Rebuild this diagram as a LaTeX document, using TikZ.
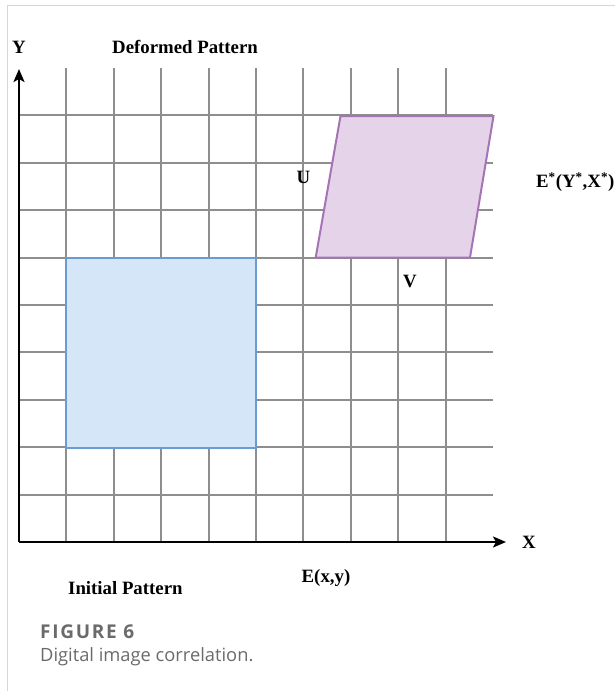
\documentclass[tikz,border=0pt]{standalone}
\usepackage{fontspec}
\setmainfont{Liberation Serif}
\newfontfamily\capfont{Open Sans}
\newfontfamily\capfontsp[LetterSpace=9]{Open Sans}
\usetikzlibrary{arrows.meta}
\definecolor{gridgray}{HTML}{8E8E8E}
\definecolor{framegray}{HTML}{D6D6D6}
\definecolor{bluefill}{HTML}{D5E6F9}
\definecolor{blueedge}{HTML}{6B9BD1}
\definecolor{purplefill}{HTML}{E5D4E9}
\definecolor{purpleedge}{HTML}{A673B5}
\definecolor{capgray}{HTML}{6A6A6A}
\tikzset{
  gridline/.style={draw=gridgray, line width=1.9pt},
  axisline/.style={draw=black, line width=2.3pt, -{Stealth[length=13pt,width=11pt,inset=3pt]}},
  lbl/.style={inner sep=0pt, font=\fontsize{18.8}{21}\selectfont\bfseries},
  captitle/.style={inner sep=0pt, anchor=west, text=capgray, font=\capfontsp\fontsize{19}{21}\selectfont\bfseries},
  captext/.style={inner sep=0pt, anchor=west, text=capgray, font=\capfont\fontsize{18.3}{21}\selectfont},
}
\begin{document}
\begin{tikzpicture}[x=1pt,y=-1pt]
\useasboundingbox (0,0) rectangle (615,691);
% frame
\draw[framegray, line width=1pt] (7,691) -- (7,5) -- (615,5);
% grid
\foreach \k in {1,...,9}{
  \draw[gridline] ({19+47.4*\k},68) -- ({19+47.4*\k},542);
  \draw[gridline] (19,{542-47.4*\k}) -- (493,{542-47.4*\k});
}
% initial pattern
\path[fill=bluefill, draw=blueedge, line width=2pt] (66.4,258.2) rectangle (256,447.8);
% deformed pattern
\path[fill=purplefill, draw=purpleedge, line width=2pt]
  (315.7,257.5) -- (470,257.5) -- (493.5,116) -- (340.5,116) -- cycle;
% axes
\coordinate (O) at (19,542);
\coordinate (ytip) at (19,69);
\coordinate (xtip) at (506,542);
\draw[axisline] (O) -- (ytip);
\draw[axisline] (O) -- (xtip);
% labels
\node[lbl] (Ylab) at (19,47) {Y};
\node[lbl] (Xlab) at (529,542) {X};
\node[lbl, anchor=west] (def) at (112,47) {Deformed Pattern};
\node[lbl, anchor=west] (ini) at (68,588) {Initial Pattern};
\node[lbl, anchor=west] (exy) at (301.5,578) {E(x,y)};
\node[lbl, anchor=west] (estar) at (536,182) {E\textsuperscript{*}(Y\textsuperscript{*},X\textsuperscript{*})};
\node[lbl] (U) at (303.5,177) {U};
\node[lbl] (V) at (410,281) {V};
% caption
\node[captitle] (fig) at (40,632) {FIGURE 6};
\node[captext] (capt) at (40,657) {Digital image correlation.};
\end{tikzpicture}
\end{document}
